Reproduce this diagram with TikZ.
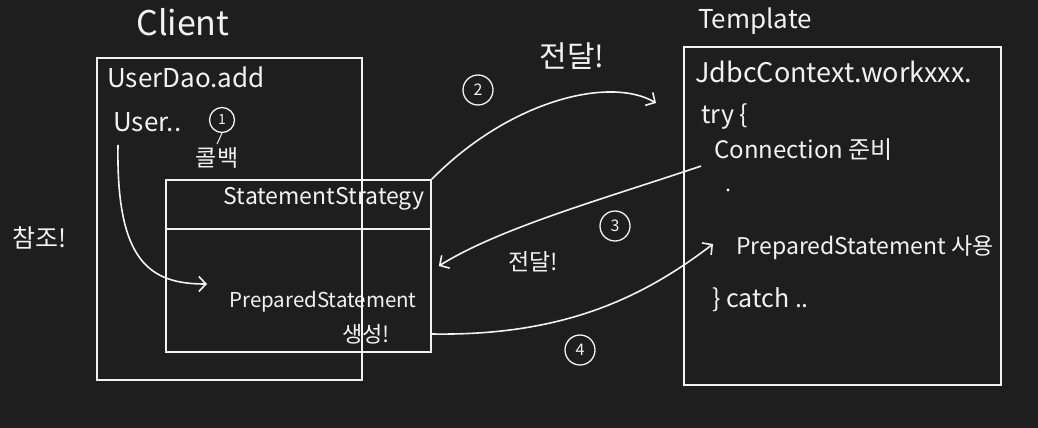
\documentclass[tikz,border=0pt]{standalone}
\usepackage{fontspec}
\setmainfont{Noto Sans CJK KR}
\usetikzlibrary{arrows.meta, positioning}
\definecolor{board}{HTML}{1E1E1E}
\definecolor{chalk}{HTML}{F2F2F2}
\tikzstyle{sketchbox} = [rectangle, draw=chalk, line width=1.6pt, inner sep=0pt]
\tikzstyle{hand} = [text=chalk, inner sep=1pt, anchor=west]
\tikzstyle{step_no} = [circle, draw=chalk, line width=1.3pt, text=chalk, inner sep=0pt, minimum size=30pt, font=\fontsize{16}{16}\selectfont]
\tikzstyle{flow} = [draw=chalk, line width=1.6pt, -{Straight Barb[length=7pt,width=15pt]}]
\newcommand{\fs}[1]{\fontsize{#1}{#1}\selectfont}

\begin{document}
\begin{tikzpicture}[x=1pt, y=-1pt]
            % Background
            \fill[board] (0,0) rectangle (1038,428);
            \useasboundingbox (0,0) rectangle (1038,428);

            % Client side
            \node[text=chalk, font=\fs{34}] (clienttitle) at (183,22) {Client};
            \node[sketchbox, minimum width=265pt, minimum height=322pt] (clientbox) at (229.5,219) {};
            \node[hand, font=\fs{26}] (userdao) at (106,77) {UserDao.add};
            \node[hand, font=\fs{26}] (user) at (112,122) {User..};
            \node[step_no, minimum size=25pt, font=\fs{14}] (one) at (222,120) {1};
            \node[text=chalk, font=\fs{23}] (callback) at (217,158) {콜백};
            \node[text=chalk, font=\fs{25}] (refer) at (40,238) {참조!};
            \node[sketchbox, minimum width=265pt, minimum height=172pt] (stratbox) at (298.5,266) {};
            \draw[chalk, line width=1.6pt] (stratbox.west |- 0,229) -- (stratbox.east |- 0,229);
            \node[text=chalk, font=\fs{23}] (strategy) at (324,199) {StatementStrategy};
            \node[text=chalk, font=\fs{20.5}] (prepared) at (323,302) {PreparedStatement};
            \node[text=chalk, font=\fs{22}] (create) at (366,334) {생성!};
            \coordinate (refend) at (207,284);

            % Template side
            \node[text=chalk, font=\fs{26}] (templatetitle) at (755,21) {Template};
            \node[sketchbox, minimum width=317pt, minimum height=338pt] (tplbox) at (842.5,216) {};
            \node[hand, font=\fs{27}] (work) at (694,72) {JdbcContext.workxxx.};
            \node[hand, font=\fs{25}] (try) at (700,117) {try \{};
            \node[hand, font=\fs{24}] (conn) at (713,150) {Connection 준비};
            \fill[chalk] (728,190) circle (1.6pt);
            \node[hand, font=\fs{23}] (use) at (735,248) {PreparedStatement 사용};
            \node[hand, font=\fs{25}] (catch) at (711,300) {\} catch ..};
            \coordinate (passend) at (656,103);
            \coordinate (useend) at (713,244);

            % Step labels
            \node[step_no] (two) at (478,90) {2};
            \node[text=chalk, font=\fs{30}] (pass1) at (572,56) {전달!};
            \node[step_no] (three) at (615,226) {3};
            \node[text=chalk, font=\fs{23}] (pass2) at (533,262) {전달!};
            \node[step_no] (four) at (580,350) {4};

            % Edges
            \draw[chalk, line width=1pt] (one.south) -- (callback.north);
            \draw[flow] (user.south west) ++(6,12) .. controls (116,262) and (150,284) .. (refend);
            \draw[flow] (stratbox.north east) .. controls (510,100) and (610,76) .. (passend);
            \draw[flow] (conn.south west) ++(-12,4) .. controls (600,200) and (500,228) .. ([xshift=7pt]stratbox.east);
            \draw[flow] (stratbox.east |- create.east) .. controls (560,336) and (640,300) .. (useend);
        \end{tikzpicture}
\end{document}
